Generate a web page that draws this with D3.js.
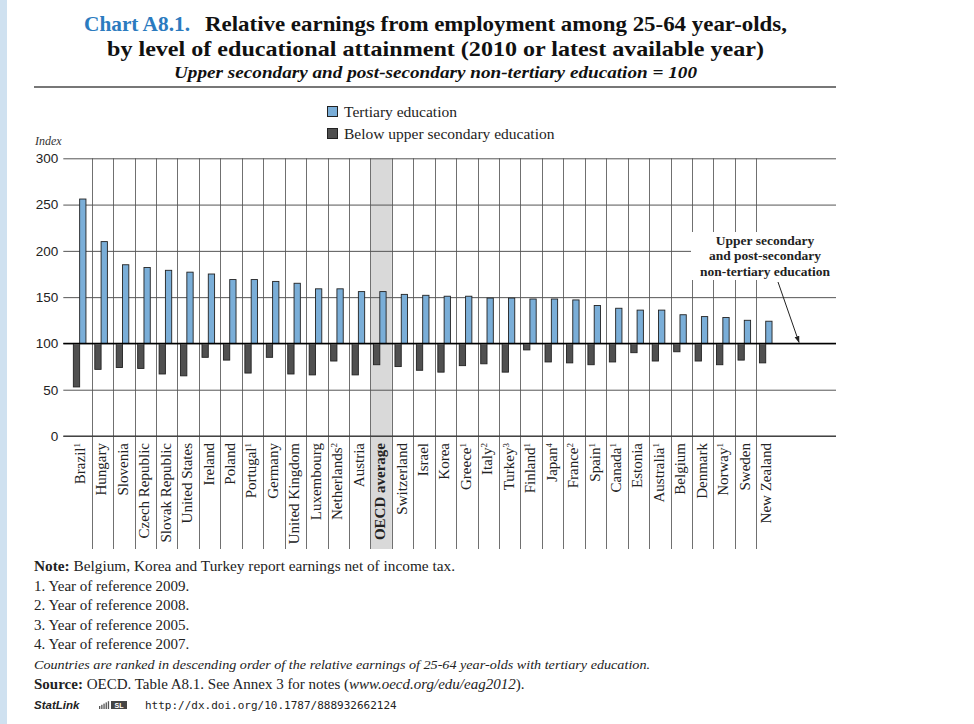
<!DOCTYPE html>
<html>
<head>
<meta charset="utf-8">
<script src="https://cdn.jsdelivr.net/npm/d3@7"></script>
<style>
  html, body { margin: 0; padding: 0; background: #fff; }
  svg { display: block; }
</style>
</head>
<body>
<div id="chart"></div>
<script>
const countries = ['Brazil', 'Hungary', 'Slovenia', 'Czech Republic', 'Slovak Republic', 'United States',
  'Ireland', 'Poland', 'Portugal', 'Germany', 'United Kingdom', 'Luxembourg', 'Netherlands', 'Austria',
  'OECD average', 'Switzerland', 'Israel', 'Korea', 'Greece', 'Italy', 'Turkey', 'Finland', 'Japan',
  'France', 'Spain', 'Canada', 'Estonia', 'Australia', 'Belgium', 'Denmark', 'Norway', 'Sweden', 'New Zealand'];
const footnoteMarks = ['1', '', '', '', '', '', '', '', '1', '', '', '', '2', '', '', '', '', '', '1', '2', '3',
  '1', '4', '2', '1', '1', '', '1', '', '', '1', '', ''];
const tertiary = [256, 210, 185, 182, 179, 177, 175, 169, 169, 167, 165, 159, 159, 156, 156, 153, 152, 151,
  151, 149, 149, 148, 148, 147, 141, 138, 136, 136, 131, 129, 128, 125, 124];
const belowUpper = [53, 72, 74, 73, 67, 65, 85, 82, 68, 85, 67, 66, 81, 66, 77, 75, 71, 69, 76, 78, 69, 93,
  80, 79, 77, 80, 90, 81, 91, 81, 77, 82, 79];
const yTicks = [0, 50, 100, 150, 200, 250, 300];
const seriesNames = ['Tertiary education', 'Below upper secondary education'];
const noteLines = ['1. Year of reference 2009.', '2. Year of reference 2008.', '3. Year of reference 2005.',
  '4. Year of reference 2007.'];

const BLUE = '#7aaed8', DARK = '#505050';
const serif = '"Liberation Serif", "DejaVu Serif", serif';
const sans = '"Liberation Sans", Arial, sans-serif';

const W = 974, H = 724;
const svg = d3.select('#chart').append('svg').attr('width', W).attr('height', H);

// left page strip
svg.append('rect').attr('x', 0).attr('y', 0).attr('width', 7).attr('height', H).attr('fill', '#cfe1f0');

// Title
const t1 = svg.append('text').attr('x', 84).attr('y', 31).attr('font-family', serif).attr('font-size', '21px');
t1.append('tspan').attr('fill', '#2b7bbf').attr('font-weight', 'bold')
  .attr('textLength', 106).attr('lengthAdjust', 'spacingAndGlyphs').text('Chart A8.1.');
t1.append('tspan').attr('x', 205).attr('font-weight', 'bold').attr('fill', '#111')
  .attr('textLength', 582).attr('lengthAdjust', 'spacingAndGlyphs')
  .text('Relative earnings from employment among 25-64 year-olds,');
svg.append('text').attr('x', 107).attr('y', 56).attr('font-family', serif).attr('font-size', '21px')
  .attr('font-weight', 'bold').attr('fill', '#111')
  .attr('textLength', 657).attr('lengthAdjust', 'spacingAndGlyphs')
  .text('by level of educational attainment (2010 or latest available year)');
svg.append('text').attr('x', 174).attr('y', 78).attr('font-family', serif).attr('font-size', '17px')
  .attr('font-style', 'italic').attr('font-weight', 'bold').attr('fill', '#111')
  .attr('textLength', 523).attr('lengthAdjust', 'spacingAndGlyphs')
  .text('Upper secondary and post-secondary non-tertiary education = 100');
svg.append('line').attr('x1', 34).attr('x2', 836).attr('y1', 87).attr('y2', 87)
  .attr('stroke', '#777').attr('stroke-width', 2);

// Legend
const leg = svg.append('g').attr('transform', 'translate(327,106)');
[BLUE, DARK].forEach((c, i) => {
  leg.append('rect').attr('x', 0.5).attr('y', i * 22 + 0.5).attr('width', 10).attr('height', 10)
    .attr('fill', c).attr('stroke', '#222');
  leg.append('text').attr('x', 17).attr('y', i * 22 + 10.5).attr('font-family', serif).attr('font-size', '15.5px')
    .attr('fill', '#222').text(seriesNames[i]);
});

// Scales
const plotLeft = 63.3, plotRight = 836, bandLeft = 70.25, bandW = 21.44;
const x = d3.scaleBand().domain(countries).range([bandLeft, bandLeft + bandW * countries.length]);
const xi = d3.scaleBand().domain(['below', 'tertiary']).range([3.1, 3.1 + 12.6]);
const y = d3.scaleLinear().domain([0, 300]).range([436, 158.3]);
const labelsBottom = 549;

// OECD highlight
svg.append('rect').attr('x', x('OECD average')).attr('y', y(300)).attr('width', x.bandwidth())
  .attr('height', labelsBottom - y(300)).attr('fill', '#d9d9d9');

// vertical separators
svg.append('g').selectAll('line').data(countries.slice(1)).join('line')
  .attr('x1', d => Math.round(x(d)) + 0.5).attr('x2', d => Math.round(x(d)) + 0.5)
  .attr('y1', y(300)).attr('y2', labelsBottom)
  .attr('stroke', '#707070').attr('stroke-width', 1);

// horizontal grid + y labels
svg.append('g').attr('transform', `translate(${plotLeft},0)`)
  .call(d3.axisLeft(y).tickValues(yTicks).tickSize(-(plotRight - plotLeft)).tickPadding(5))
  .call(g => g.select('.domain').remove())
  .call(g => g.selectAll('.tick line').attr('stroke', d => d === 100 ? '#000' : '#555').attr('stroke-width', 1))
  .call(g => g.selectAll('.tick text').attr('fill', '#222').attr('font-size', '13.5px').attr('font-family', sans));

svg.append('text').attr('x', 35).attr('y', 145).attr('font-family', serif).attr('font-style', 'italic')
  .attr('font-size', '12px').attr('fill', '#333').text('Index');

// annotation box over grid
svg.append('rect').attr('x', 691).attr('y', 232).attr('width', 145).attr('height', 48).attr('fill', '#fff');
const ann = svg.append('text').attr('font-family', serif).attr('font-weight', 'bold').attr('font-size', '13.5px')
  .attr('fill', '#222').attr('text-anchor', 'middle');
['Upper secondary', 'and post-secondary', 'non-tertiary education'].forEach((s, i) => {
  ann.append('tspan').attr('x', 765).attr('y', 244.5 + i * 15.5).text(s);
});
svg.append('defs').append('marker').attr('id', 'arr').attr('viewBox', '0 0 10 10').attr('refX', 9).attr('refY', 5)
  .attr('markerWidth', 7).attr('markerHeight', 7).attr('orient', 'auto')
  .append('path').attr('d', 'M0,1.5 L10,5 L0,8.5 z').attr('fill', '#222');
svg.append('line').attr('x1', 778).attr('y1', 282).attr('x2', 799).attr('y2', y(100) - 1)
  .attr('stroke', '#222').attr('stroke-width', 1).attr('marker-end', 'url(#arr)');

// Bars
const rows = countries.map((c, i) => ({ c, tertiary: tertiary[i], below: belowUpper[i] }));
const bars = svg.append('g');
bars.selectAll('.tert').data(rows).join('rect').attr('class', 'tert')
  .attr('x', d => x(d.c) + xi('tertiary')).attr('width', xi.bandwidth())
  .attr('y', d => y(d.tertiary)).attr('height', d => y(100) - y(d.tertiary))
  .attr('fill', BLUE).attr('stroke', '#222').attr('stroke-width', 0.9);
bars.selectAll('.below').data(rows).join('rect').attr('class', 'below')
  .attr('x', d => x(d.c) + xi('below')).attr('width', xi.bandwidth())
  .attr('y', y(100)).attr('height', d => y(d.below) - y(100))
  .attr('fill', DARK).attr('stroke', '#222').attr('stroke-width', 0.9);

// 100 reference line on top
svg.append('line').attr('x1', plotLeft).attr('x2', plotRight).attr('y1', y(100)).attr('y2', y(100))
  .attr('stroke', '#000').attr('stroke-width', 1.2);
svg.append('line').attr('x1', plotLeft).attr('x2', plotRight).attr('y1', y(0)).attr('y2', y(0))
  .attr('stroke', '#333').attr('stroke-width', 1.2);

// Category labels
const lab = svg.append('g').selectAll('text').data(countries).join('text')
  .attr('transform', d => `translate(${x(d) + x.bandwidth() / 2 + 4},${y(0) + 7}) rotate(-90)`)
  .attr('text-anchor', 'end').attr('font-family', serif).attr('font-size', '15px').attr('fill', '#222')
  .attr('font-weight', d => d === 'OECD average' ? 'bold' : 'normal')
  .text(d => d);
lab.each(function (d, i) {
  if (footnoteMarks[i]) {
    d3.select(this).append('tspan').attr('baseline-shift', 'super').attr('font-size', '9px').text(footnoteMarks[i]);
  }
});

// Notes
const notes = svg.append('g').attr('font-family', serif).attr('fill', '#222');
const n0 = notes.append('text').attr('x', 34).attr('y', 571).attr('font-size', '15px')
  .attr('textLength', 421).attr('lengthAdjust', 'spacingAndGlyphs');
n0.append('tspan').attr('font-weight', 'bold').text('Note:');
n0.append('tspan').text(' Belgium, Korea and Turkey report earnings net of income tax.');
noteLines.forEach((s, i) => {
  notes.append('text').attr('x', 34).attr('y', 590.5 + i * 19.6).attr('font-size', '15px').text(s);
});
notes.append('text').attr('x', 34).attr('y', 668.5).attr('font-size', '13.5px').attr('font-style', 'italic')
  .attr('textLength', 616).attr('lengthAdjust', 'spacingAndGlyphs')
  .text('Countries are ranked in descending order of the relative earnings of 25-64 year-olds with tertiary education.');
const src = notes.append('text').attr('x', 34).attr('y', 689).attr('font-size', '15px');
src.append('tspan').attr('font-weight', 'bold').text('Source:');
src.append('tspan').text(' OECD. Table A8.1. See Annex 3 for notes (');
src.append('tspan').attr('font-style', 'italic').text('www.oecd.org/edu/eag2012');
src.append('tspan').text(').');

// StatLink
svg.append('text').attr('x', 34).attr('y', 709).attr('font-family', sans).attr('font-weight', 'bold')
  .attr('font-style', 'italic').attr('font-size', '11.5px').attr('fill', '#222').text('StatLink');
const icon = svg.append('g').attr('transform', 'translate(99,700)');
[0, 1, 2, 3, 4].forEach(k => icon.append('rect').attr('x', k * 2.2).attr('y', 6 - k * 1.2).attr('width', 1.3)
  .attr('height', 3 + k * 1.2).attr('fill', '#555'));
icon.append('rect').attr('x', 12).attr('y', 1).attr('width', 16).attr('height', 8).attr('fill', '#444');
icon.append('text').attr('x', 20).attr('y', 8).attr('text-anchor', 'middle').attr('font-family', sans)
  .attr('font-size', '7px').attr('font-weight', 'bold').attr('fill', '#fff').text('SL');
svg.append('text').attr('x', 145).attr('y', 709).attr('font-family', '"DejaVu Sans Mono", "Liberation Mono", monospace')
  .attr('font-size', '11px').attr('fill', '#222').text('http://dx.doi.org/10.1787/888932662124');
</script>
</body>
</html>
